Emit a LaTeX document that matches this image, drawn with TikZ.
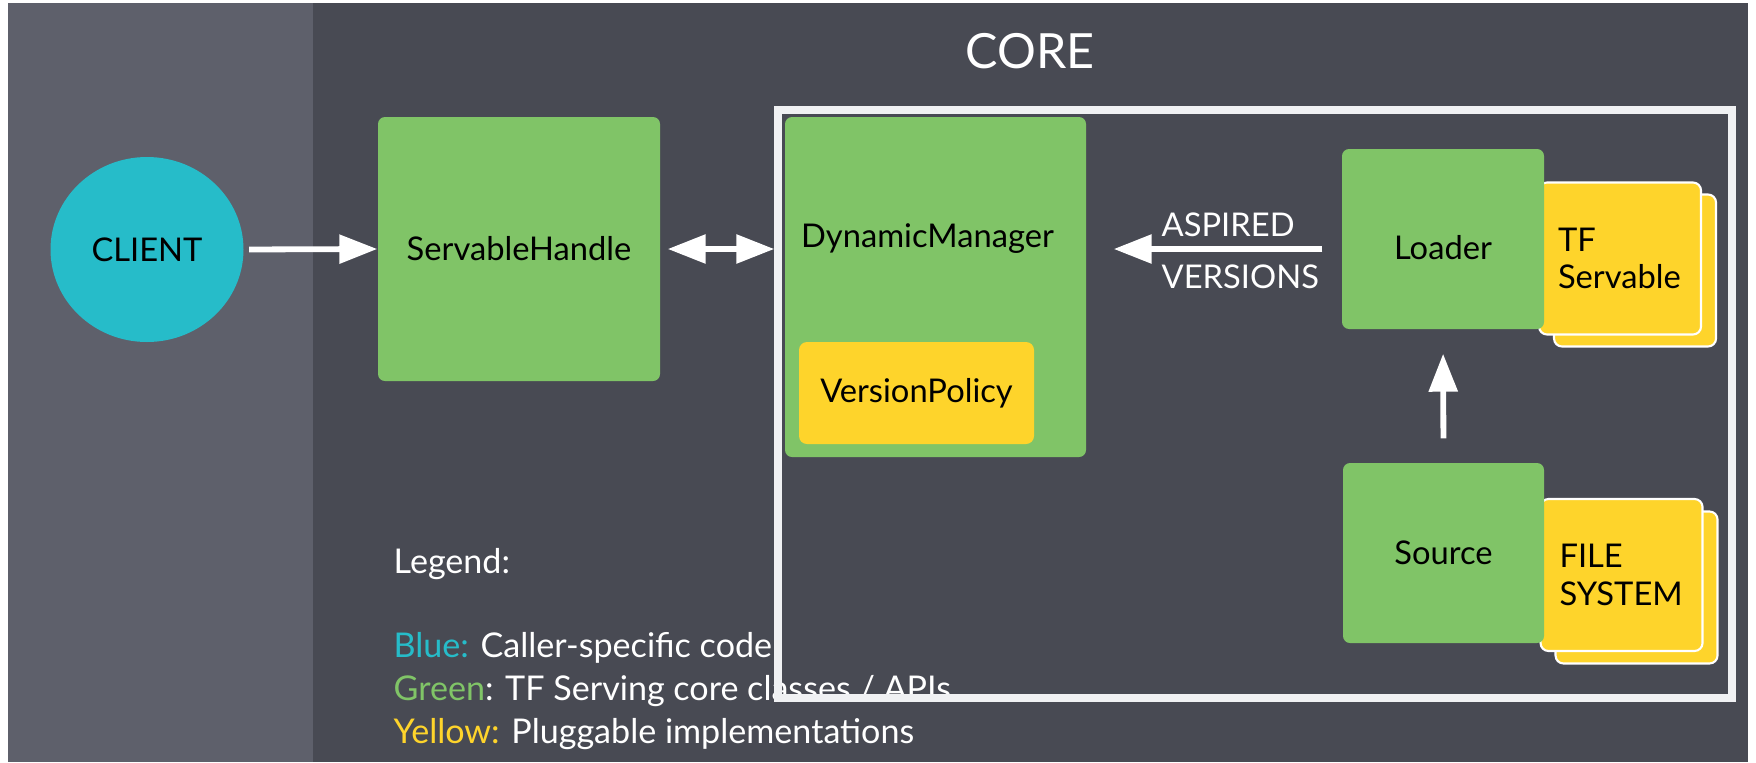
\documentclass[tikz,border=0pt]{standalone}
\usepackage{fontspec}
\setmainfont{Lato}
\usetikzlibrary{arrows.meta,shapes.geometric}

\definecolor{bgdark}{RGB}{72,74,83}
\definecolor{bgleft}{RGB}{94,96,107}
\definecolor{clientblue}{RGB}{38,188,201}
\definecolor{boxgreen}{RGB}{128,196,103}
\definecolor{tfyellow}{RGB}{254,212,43}
\definecolor{framegray}{RGB}{240,241,243}

\begin{document}
\begin{tikzpicture}[
    box/.style={rectangle, rounded corners=0.07cm, fill=boxgreen, inner sep=0pt, font=\fontsize{9.3pt}{11pt}\selectfont},
    plug/.style={rectangle, rounded corners=0.08cm, fill=tfyellow, inner sep=0pt, font=\fontsize{9.3pt}{11pt}\selectfont},
    card/.style={rectangle, rounded corners=0.08cm, fill=tfyellow, draw=white, line width=0.6pt,
        minimum width=1.62cm, minimum height=1.52cm, text width=1.24cm, inner xsep=0.19cm, inner ysep=0pt,
        align=left, font=\fontsize{9.3pt}{10.6pt}\selectfont},
    whitetext/.style={text=white, inner sep=0pt, font=\fontsize{9.3pt}{11pt}\selectfont},
    arrow/.style={-{Triangle[length=0.38cm,width=0.28cm]}, line width=1.65pt, white}
]
    \useasboundingbox (0,0) rectangle (17.56,-7.62);
    \fill[white] (0,0) rectangle (17.56,-7.62);
    \fill[bgdark] (0.08,-0.03) rectangle (17.48,-7.62);
    \fill[bgleft] (0.08,-0.03) rectangle (3.13,-7.62);

    % Title
    \node[text=white, font=\fontsize{13.8pt}{16pt}\selectfont] (core) at (10.30,-0.51) {CORE};

    % Legend
    \node[whitetext, anchor=base west, align=left, font=\fontsize{9.7pt}{12.2pt}\selectfont] (legend) at (3.93,-7.43)
        {Legend:\\[0.41cm]
         \textcolor{clientblue}{Blue:} Caller-specific code\\
         \textcolor{boxgreen}{Green}: TF Serving core classes / APIs\\
         \textcolor{tfyellow}{Yellow:} Pluggable implementations};

    % Core frame
    \node[rectangle, draw=framegray, line width=0.08cm, minimum width=9.54cm, minimum height=5.88cm] (coreframe) at (12.55,-4.04) {};

    % Client side
    \node[ellipse, fill=clientblue, minimum width=1.93cm, minimum height=1.85cm, inner sep=0pt,
        font=\fontsize{9.3pt}{11pt}\selectfont] (client) at (1.47,-2.495) {CLIENT};
    \node[box, minimum width=2.82cm, minimum height=2.64cm] (handle) at (5.19,-2.49) {ServableHandle};

    % Manager
    \node[box, minimum width=3.01cm, minimum height=3.40cm] (manager) at (9.355,-2.87) {};
    \node[font=\fontsize{9.3pt}{11pt}\selectfont, inner sep=0pt] (managertext) at (9.275,-2.39) {DynamicManager};
    \node[plug, minimum width=2.35cm, minimum height=1.02cm] (policy) at (9.165,-3.93) {VersionPolicy};

    % Loader and servables
    \node[card] (servableback) at (16.35,-2.705) {};
    \node[card] (servable) at (16.20,-2.585) {TF\\Servable};
    \node[box, minimum width=2.02cm, minimum height=1.80cm,
        label={[font=\fontsize{9.3pt}{11pt}\selectfont, yshift=-0.09cm]center:Loader}] (loader) at (14.43,-2.39) {};

    % Source and file system
    \node[card] (filesback) at (16.365,-5.875) {};
    \node[card] (files) at (16.215,-5.75) {FILE\\SYSTEM};
    \node[box, minimum width=2.01cm, minimum height=1.80cm] (source) at (14.435,-5.53) {Source};

    % Arrow labels
    \node[whitetext, anchor=base west] (aspired) at (11.61,-2.36) {ASPIRED};
    \node[whitetext, anchor=base west] (versions) at (11.61,-2.88) {VERSIONS};

    % Connectors
    \draw[arrow, shorten <=0.05cm] (client.east) -- (handle.west);
    \draw[arrow, {Triangle[length=0.38cm,width=0.28cm]}-{Triangle[length=0.38cm,width=0.28cm]},
        shorten <=0.07cm, shorten >=0.10cm] (handle.east) -- (manager.west |- handle.east);
    \draw[arrow, shorten <=0.19cm, shorten >=0.27cm] (loader.west |- handle.east) -- (manager.east |- handle.east);
    \draw[arrow, shorten <=0.24cm, shorten >=0.24cm] (source.north) -- (loader.south);
\end{tikzpicture}
\end{document}
